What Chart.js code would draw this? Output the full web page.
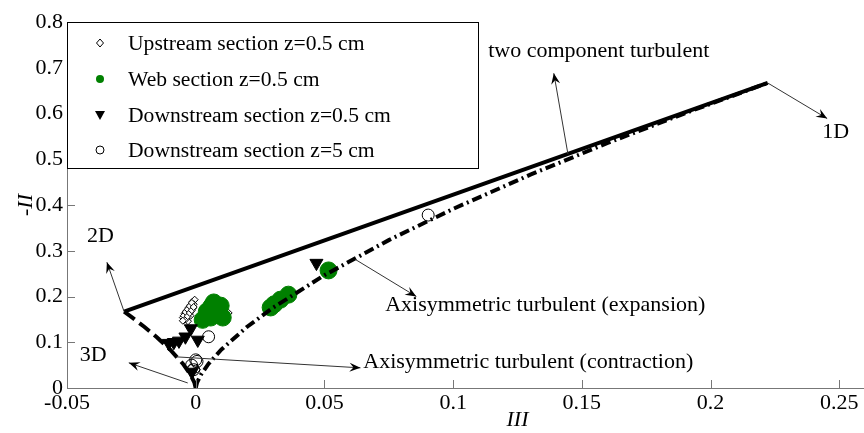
<!DOCTYPE html>
<html>
<head>
<meta charset="utf-8">
<script src="https://cdn.jsdelivr.net/npm/chart.js@4.4.1/dist/chart.umd.min.js"></script>
<style>
    html, body { margin: 0; padding: 0; background: #fff; overflow: hidden; }
    #wrap { width: 864px; height: 433px; overflow: hidden; }
</style>
</head>
<body>
<div id="wrap"><canvas id="lumley-chart" width="1000" height="433"></canvas></div>
<script>
// 坐标轴刻度
const xTicks = [-0.05, 0, 0.05, 0.1, 0.15, 0.2, 0.25, 0.3];
const xTickLabels = ['-0.05', '0', '0.05', '0.1', '0.15', '0.2', '0.25', '0.3'];
const yTicks = [0, 0.1, 0.2, 0.3, 0.4, 0.5, 0.6, 0.7, 0.8];
const yTickLabels = ['0', '0.1', '0.2', '0.3', '0.4', '0.5', '0.6', '0.7', '0.8'];

// Lumley 三角形边界
const twoCompIII = [-0.0278, 0.2222];
const twoCompII = [0.1667, 0.6667];
const contractionIII = [-0.0278, -0.025, -0.02, -0.015, -0.01, -0.005, -0.002, -0.0005, 0];
const contractionII = [0.1667, 0.1554, 0.1339, 0.1105, 0.0843, 0.0531, 0.0288, 0.0115, 0];
const expansionIII = [0, 0.0005, 0.002, 0.005, 0.01, 0.02, 0.03, 0.05, 0.075, 0.1, 0.13, 0.16, 0.19, 0.2222];
const expansionII = [0, 0.0115, 0.0288, 0.0531, 0.0843, 0.1339, 0.1754, 0.2466, 0.3232, 0.3915, 0.4663, 0.5355, 0.6005, 0.6667];

// 测量数据
const seriesNames = ['Upstream section z=0.5 cm', 'Web section z=0.5 cm', 'Downstream section z=0.5 cm', 'Downstream section z=5 cm'];
const upstreamIII = [-0.0050, -0.0043, -0.0035, -0.0027, -0.0019, -0.0012, -0.0004, -0.0035, -0.0027, -0.0019, -0.0012, -0.0043, -0.0008, -0.0030, -0.0020,
    -0.0046, -0.0039, -0.0031, -0.0023, -0.0015, -0.0039, -0.0031, -0.0023, -0.0015, -0.0008, -0.0050, 0.0128, -0.0020, 0.0005];
const upstreamII = [0.154, 0.163, 0.169, 0.176, 0.182, 0.189, 0.193, 0.154, 0.160, 0.167, 0.174, 0.149, 0.183, 0.146, 0.158,
    0.158, 0.166, 0.172, 0.179, 0.186, 0.150, 0.157, 0.164, 0.170, 0.177, 0.147, 0.164, 0.045, 0.040];
const webIII = [0.0027, 0.0043, 0.0058, 0.0070, 0.0081, 0.0097, 0.0105, 0.0060, 0.0291, 0.0305, 0.0329, 0.0360, 0.0516];
const webII = [0.149, 0.167, 0.154, 0.187, 0.160, 0.180, 0.154, 0.178, 0.176, 0.183, 0.193, 0.204, 0.257];
const downIII = [-0.0105, -0.0085, -0.0065, -0.0040, -0.0019, 0.0008, 0.0469, -0.0015];
const downII = [0.098, 0.100, 0.103, 0.112, 0.130, 0.105, 0.273, 0.035];
const down5III = [0.0903, 0.0050, 0.0000, -0.0016, -0.0008, 0.0005];
const down5II = [0.378, 0.112, 0.0615, 0.050, 0.040, 0.058];

// 注释箭头
const arrowFrom = [[0.1446, 0.511], [0.2222, 0.6667], [-0.0278, 0.1667], [-0.0031, 0.011], [0.062, 0.281], [-0.0074, 0.068]];
const arrowTo = [[0.1391, 0.688], [0.2453, 0.589], [-0.0345, 0.275], [-0.026, 0.055], [0.0857, 0.200], [0.064, 0.044]];
const noteTexts = ['two component turbulent', '1D', '2D', '3D', 'Axisymmetric turbulent (expansion)', 'Axisymmetric turbulent (contraction)'];
const notePos = [[0.1136, 0.736], [0.2434, 0.560], [-0.0422, 0.332], [-0.045, 0.0725], [0.0736, 0.182], [0.0651, 0.057]];

const SERIF = "'Liberation Serif', 'Times New Roman', serif";
const GREEN = '#008000';

function toPoints(xs, ys) {
    return xs.map((v, i) => ({ x: v, y: ys[i] }));
}

function drawArrow(ctx, x1, y1, x2, y2) {
    ctx.beginPath();
    ctx.moveTo(x1, y1);
    ctx.lineTo(x2, y2);
    ctx.stroke();
    const ang = Math.atan2(y2 - y1, x2 - x1);
    ctx.save();
    ctx.translate(x2, y2);
    ctx.rotate(ang);
    ctx.beginPath();
    ctx.moveTo(0, 0);
    ctx.lineTo(-11, -4.5);
    ctx.lineTo(-7, 0);
    ctx.lineTo(-11, 4.5);
    ctx.closePath();
    ctx.fill();
    ctx.restore();
}

function drawMarker(ctx, kind, x, y) {
    ctx.save();
    ctx.lineWidth = 1;
    ctx.beginPath();
    if (kind === 0) {
        ctx.moveTo(x, y - 4); ctx.lineTo(x + 3.5, y); ctx.lineTo(x, y + 4); ctx.lineTo(x - 3.5, y); ctx.closePath();
        ctx.fillStyle = '#fff'; ctx.fill(); ctx.strokeStyle = '#000'; ctx.stroke();
    } else if (kind === 1) {
        ctx.arc(x, y, 4, 0, Math.PI * 2);
        ctx.fillStyle = GREEN; ctx.fill();
    } else if (kind === 2) {
        ctx.moveTo(x - 5, y - 4); ctx.lineTo(x + 5, y - 4); ctx.lineTo(x, y + 5); ctx.closePath();
        ctx.fillStyle = '#000'; ctx.fill();
    } else {
        ctx.arc(x, y, 4, 0, Math.PI * 2);
        ctx.strokeStyle = '#000'; ctx.stroke();
    }
    ctx.restore();
}

// 内向刻度, 注释, 图例
const overlayPlugin = {
    id: 'overlay',
    afterDatasetsDraw(chart) {
        const { ctx, chartArea, scales: { x, y } } = chart;
        ctx.save();
        ctx.strokeStyle = '#777';
        ctx.lineWidth = 1;
        xTicks.forEach(v => {
            const px = Math.round(x.getPixelForValue(v)) + 0.5;
            ctx.beginPath();
            ctx.moveTo(px, chartArea.bottom);
            ctx.lineTo(px, chartArea.bottom - 8);
            ctx.stroke();
        });
        yTicks.forEach(v => {
            const py = Math.round(y.getPixelForValue(v)) + 0.5;
            ctx.beginPath();
            ctx.moveTo(chartArea.left, py);
            ctx.lineTo(chartArea.left + 8, py);
            ctx.stroke();
        });

        ctx.strokeStyle = '#333';
        ctx.fillStyle = '#000';
        arrowFrom.forEach((p, i) => {
            drawArrow(ctx,
                x.getPixelForValue(p[0]), y.getPixelForValue(p[1]),
                x.getPixelForValue(arrowTo[i][0]), y.getPixelForValue(arrowTo[i][1]));
        });

        ctx.font = '22px ' + SERIF;
        ctx.textAlign = 'left';
        ctx.textBaseline = 'middle';
        noteTexts.forEach((t, i) => {
            ctx.fillText(t, x.getPixelForValue(notePos[i][0]), y.getPixelForValue(notePos[i][1]));
        });
        ctx.restore();
    },
    afterDraw(chart) {
        const { ctx } = chart;
        ctx.save();
        const left = 67.5, top = 22.5, w = 411, h = 146;
        ctx.fillStyle = '#fff';
        ctx.fillRect(left, top, w, h);
        ctx.strokeStyle = '#000';
        ctx.lineWidth = 1;
        ctx.strokeRect(left, top, w, h);
        const rows = [43, 79, 115, 150];
        ctx.font = '21.6px ' + SERIF;
        ctx.textAlign = 'left';
        ctx.textBaseline = 'middle';
        seriesNames.forEach((name, i) => {
            drawMarker(ctx, i, 100, rows[i]);
            ctx.fillStyle = '#000';
            ctx.fillText(name, 128, rows[i] + 1);
        });
        ctx.restore();
    }
};

document.addEventListener('DOMContentLoaded', function() {
    const canvas = document.getElementById('lumley-chart');
    const tickFont = { family: SERIF, size: 22 };

    new Chart(canvas.getContext('2d'), {
        type: 'scatter',
        data: {
            datasets: [
                {
                    label: 'two component',
                    data: toPoints(twoCompIII, twoCompII),
                    showLine: true,
                    pointRadius: 0,
                    borderColor: '#000',
                    borderWidth: 4
                },
                {
                    label: 'contraction',
                    data: toPoints(contractionIII, contractionII),
                    showLine: true,
                    pointRadius: 0,
                    borderColor: '#000',
                    borderWidth: 4,
                    borderDash: [13, 6]
                },
                {
                    label: 'expansion',
                    data: toPoints(expansionIII, expansionII),
                    showLine: true,
                    pointRadius: 0,
                    borderColor: '#000',
                    borderWidth: 4,
                    borderDash: [10, 4, 2, 4]
                },
                {
                    label: seriesNames[2],
                    data: toPoints(downIII, downII),
                    pointStyle: 'triangle',
                    rotation: 180,
                    pointRadius: 7.5,
                    backgroundColor: '#000',
                    borderColor: '#000',
                    borderWidth: 1
                },
                {
                    label: seriesNames[3],
                    data: toPoints(down5III, down5II),
                    pointStyle: 'circle',
                    pointRadius: 6,
                    backgroundColor: 'rgba(0,0,0,0)',
                    borderColor: '#000',
                    borderWidth: 1
                },
                {
                    label: seriesNames[1],
                    data: toPoints(webIII, webII),
                    pointStyle: 'circle',
                    pointRadius: 8.5,
                    backgroundColor: GREEN,
                    borderColor: GREEN,
                    borderWidth: 1
                },
                {
                    label: seriesNames[0],
                    data: toPoints(upstreamIII, upstreamII),
                    pointStyle: 'rectRot',
                    pointRadius: 3.5,
                    backgroundColor: '#fff',
                    borderColor: '#000',
                    borderWidth: 1
                }
            ]
        },
        options: {
            responsive: false,
            animation: false,
            devicePixelRatio: 1,
            layout: { padding: { top: 22, right: 32, left: 0, bottom: 0 } },
            plugins: {
                legend: { display: false },
                tooltip: { enabled: false }
            },
            scales: {
                x: {
                    type: 'linear',
                    min: -0.05,
                    max: 0.3,
                    afterFit: s => { s.height = 45; },
                    afterBuildTicks: s => { s.ticks = xTicks.map(v => ({ value: v })); },
                    grid: { display: false, drawTicks: false },
                    border: { display: true, color: '#777', width: 1 },
                    ticks: {
                        padding: 2,
                        color: '#000',
                        font: tickFont,
                        maxRotation: 0,
                        autoSkip: false,
                        callback: (v, i) => xTickLabels[i]
                    },
                    title: {
                        display: true,
                        text: 'III',
                        color: '#000',
                        font: { family: SERIF, size: 22, style: 'italic' },
                        padding: { top: 0, bottom: 0 }
                    }
                },
                y: {
                    type: 'linear',
                    min: 0,
                    max: 0.8,
                    afterFit: s => { s.width = 67; },
                    afterBuildTicks: s => { s.ticks = yTicks.map(v => ({ value: v })); },
                    grid: { display: false, drawTicks: false },
                    border: { display: true, color: '#777', width: 1 },
                    ticks: {
                        padding: 4,
                        color: '#000',
                        font: tickFont,
                        autoSkip: false,
                        callback: (v, i) => yTickLabels[i]
                    },
                    title: {
                        display: true,
                        text: '-II',
                        color: '#000',
                        font: { family: SERIF, size: 22, style: 'italic' },
                        padding: { top: 13, bottom: 0 }
                    }
                }
            }
        },
        plugins: [overlayPlugin]
    });
});
</script>
</body>
</html>
